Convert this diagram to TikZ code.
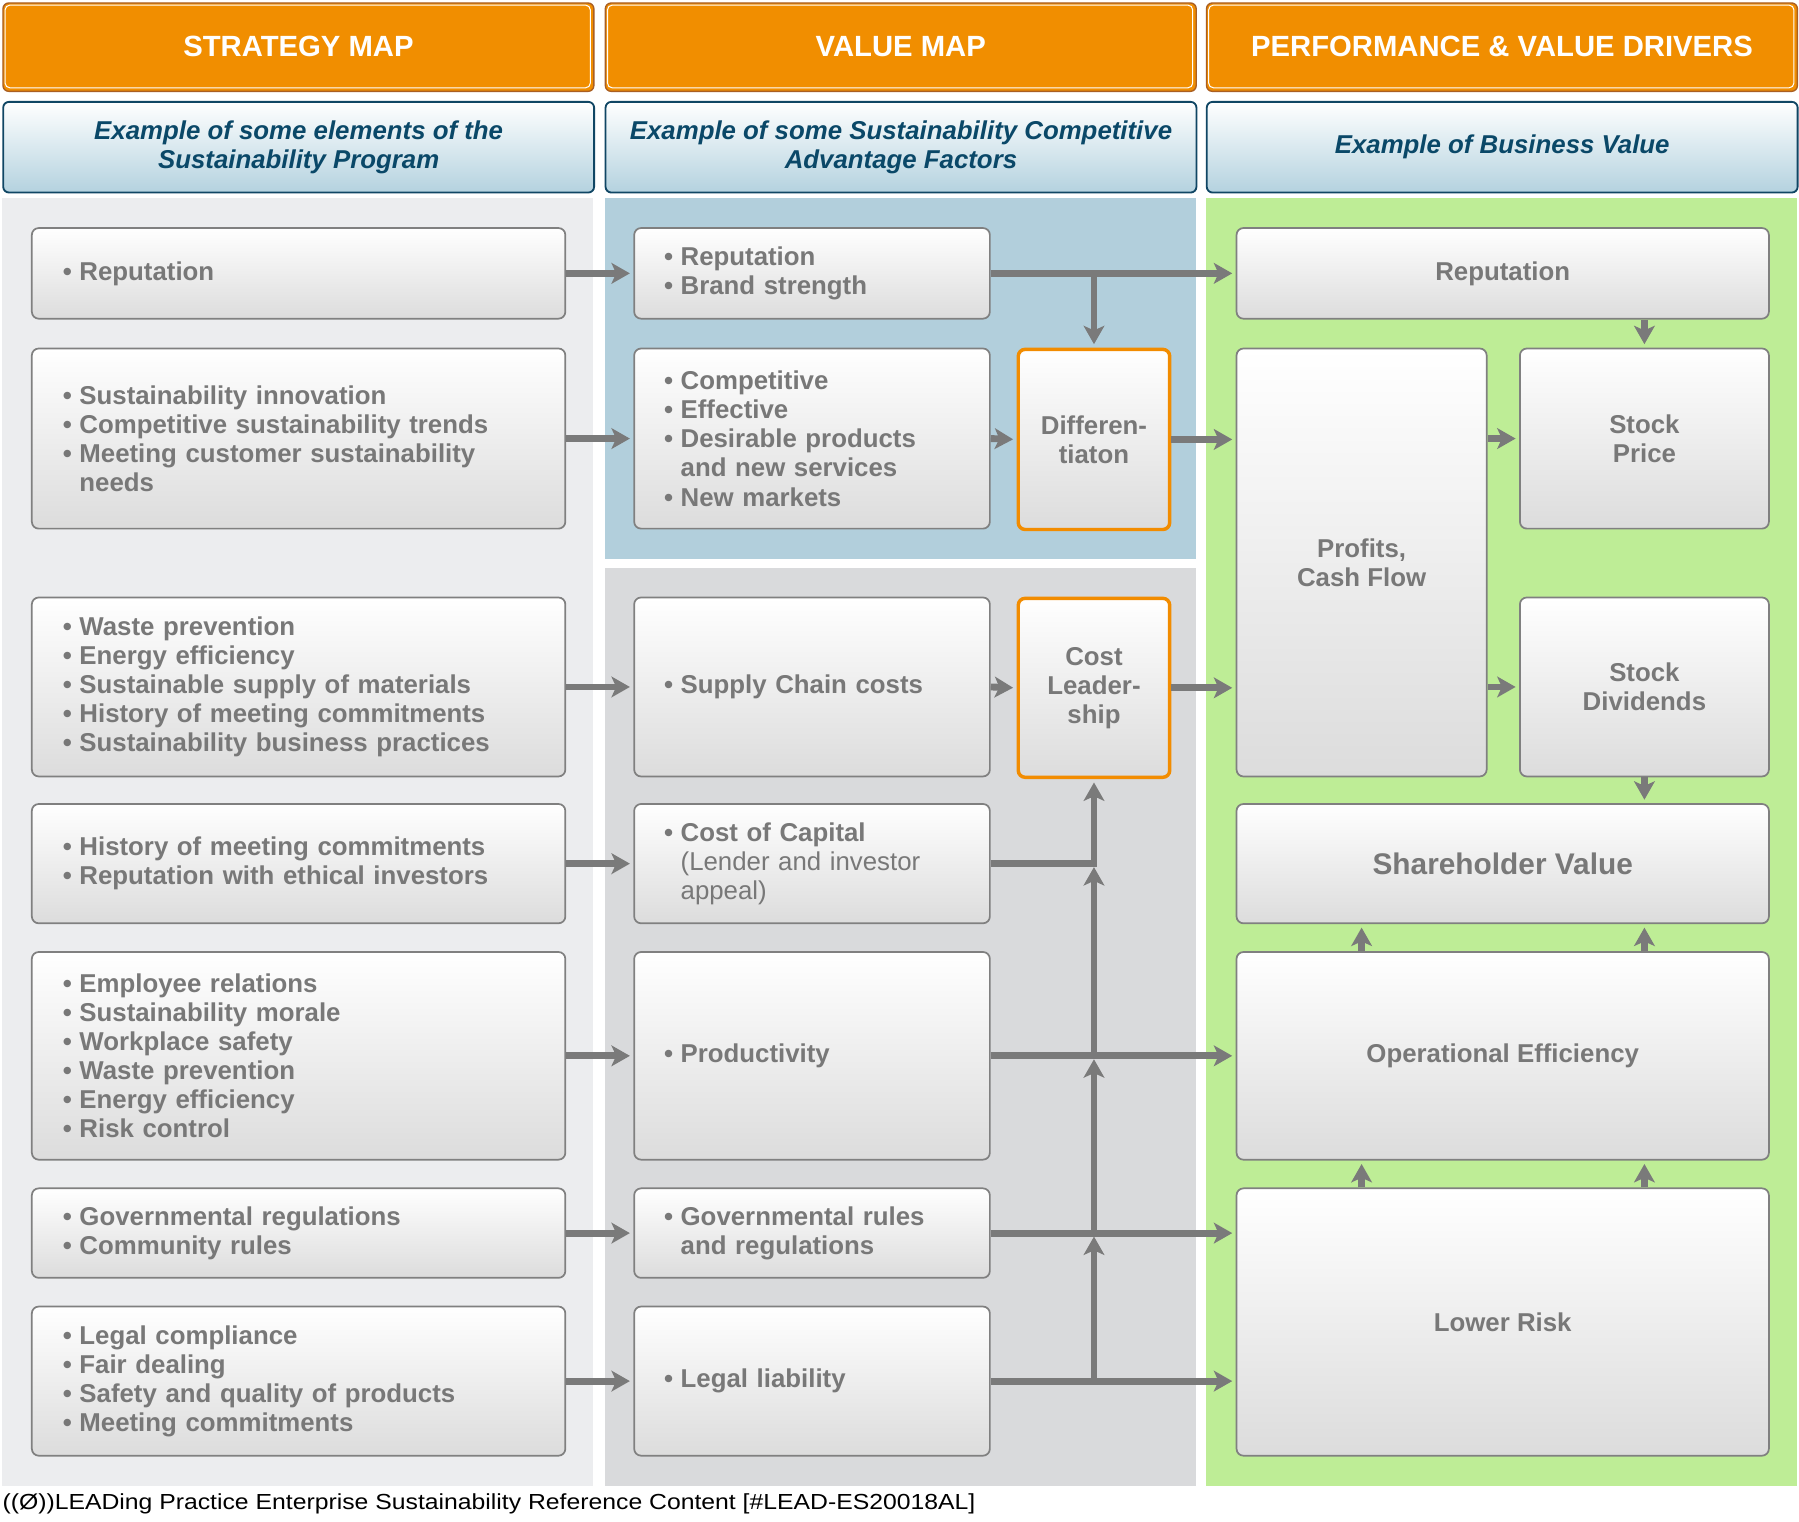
\documentclass[tikz,border=0pt]{standalone}
\usepackage{fontspec}
\usepackage{graphicx}
\setmainfont{Liberation Sans}
\usetikzlibrary{arrows.meta,calc}
\definecolor{hdrorange}{RGB}{241,142,0}
\definecolor{hdrborder}{RGB}{170,95,35}
\definecolor{subborder}{RGB}{16,70,100}
\definecolor{subbot}{RGB}{180,210,223}
\definecolor{subtext}{RGB}{10,72,104}
\definecolor{panelA}{RGB}{236,237,239}
\definecolor{panelB}{RGB}{178,207,220}
\definecolor{panelC}{RGB}{217,218,220}
\definecolor{panelD}{RGB}{190,237,150}
\definecolor{boxborder}{RGB}{128,128,128}
\definecolor{boxbot}{RGB}{220,220,220}
\definecolor{txtgray}{RGB}{120,120,120}
\definecolor{arrgray}{RGB}{122,122,122}
\definecolor{boxorange}{RGB}{242,140,0}
\newcommand\bl{\makebox[14.5pt][l]{\textbullet}}
\newcommand\ind{\hspace*{14.5pt}}
\newcommand\bx[7]{\node[#6, minimum width={#4-#2}, minimum height={#5-#3}] (#1) at (#2,#3) {#7};}
\tikzset{
  hdr/.style={draw=hdrborder, line width=1.2pt, fill=hdrorange, rounded corners=5pt, text=white,
    font=\fontsize{25.5}{30}\selectfont\bfseries, anchor=north west, inner sep=0pt},
  sub/.style={draw=subborder, line width=1.6pt, top color=white, bottom color=subbot, rounded corners=5pt,
    text=subtext, font=\fontsize{22.5}{25}\selectfont\bfseries\itshape, align=center, anchor=north west, inner sep=0pt},
  bevel/.style={append after command={
    \pgfextra{\draw[white, line width=1.1pt, rounded corners=4.5pt]
      ($(\tikzlastnode.south west)+(2.6,-2.6)$) rectangle ($(\tikzlastnode.north east)+(-2.6,2.6)$);}}},
  box/.style={draw=boxborder, line width=1.5pt, top color=white, bottom color=boxbot, rounded corners=6pt,
    text=txtgray, font=\fontsize{22.5}{25.4}\selectfont\bfseries, anchor=north west, inner ysep=0pt, bevel},
  lboxA/.style={box, align=left, inner xsep=27pt, text width={465-54}},
  lboxB/.style={box, align=left, inner xsep=26pt, text width={310-52}},
  cbox/.style={box, align=center, inner xsep=4pt},
  obox/.style={cbox, draw=boxorange, line width=3pt},
  ln/.style={draw=arrgray, line width=6pt},
  arr/.style={ln, -{Stealth[length=16pt,width=18pt,inset=4pt]}, shorten >=3pt},
  hl/.style={draw=white, line width=0.9pt, rounded corners=4pt}
}
\begin{document}
\begin{tikzpicture}[x=1pt,y=-1pt]
\useasboundingbox[fill=white] (0,0) rectangle (1568,1325.7);
% panels
\fill[panelA] (2,173) rectangle (517,1295);
\fill[panelB] (527,173) rectangle (1042,487);
\fill[panelC] (527,495) rectangle (1042,1295);
\fill[panelD] (1051,173) rectangle (1566,1295);
% headers
\bx{h1}{2}{2}{517}{79}{hdr}{\raisebox{2pt}{STRATEGY MAP}}
\bx{h2}{527}{2}{1042}{79}{hdr}{\raisebox{2pt}{VALUE MAP}}
\bx{h3}{1051}{2}{1566}{79}{hdr}{\raisebox{2pt}{PERFORMANCE \& VALUE DRIVERS}}
\draw[hl] (4.5,4.5) rectangle (514.5,76.5);
\draw[hl] (529.5,4.5) rectangle (1039.5,76.5);
\draw[hl] (1053.5,4.5) rectangle (1563.5,76.5);
\bx{s1}{2}{88}{517}{167}{sub}{Example of some elements of the\\Sustainability Program}
\bx{s2}{527}{88}{1042}{167}{sub}{Example of some Sustainability Competitive\\Advantage Factors}
\bx{s3}{1051}{88}{1566}{167}{sub}{Example of Business Value}
% column 1
\bx{a1}{27}{198}{492}{277}{lboxA}{\bl Reputation}
\bx{a2}{27}{303}{492}{460}{lboxA}{\bl Sustainability innovation\\\bl Competitive sustainability trends\\\bl Meeting customer sustainability\\\ind needs}
\bx{a3}{27}{520}{492}{676}{lboxA}{\bl Waste prevention\\\bl Energy efficiency\\\bl Sustainable supply of materials\\\bl History of meeting commitments\\\bl Sustainability business practices}
\bx{a4}{27}{700}{492}{804}{lboxA}{\bl History of meeting commitments\\\bl Reputation with ethical investors}
\bx{a5}{27}{829}{492}{1010}{lboxA}{\bl Employee relations\\\bl Sustainability morale\\\bl Workplace safety\\\bl Waste prevention\\\bl Energy efficiency\\\bl Risk control}
\bx{a6}{27}{1035}{492}{1113}{lboxA}{\bl Governmental regulations\\\bl Community rules}
\bx{a7}{27}{1138}{492}{1268}{lboxA}{\bl Legal compliance\\\bl Fair dealing\\\bl Safety and quality of products\\\bl Meeting commitments}
% column 2
\bx{b1}{552}{198}{862}{277}{lboxB}{\bl Reputation\\\bl Brand strength}
\bx{b2}{552}{303}{862}{460}{lboxB}{\bl Competitive\\\bl Effective\\\bl Desirable products\\\ind and new services\\\bl New markets}
\bx{b3}{552}{520}{862}{676}{lboxB}{\bl Supply Chain costs}
\bx{b4}{552}{700}{862}{804}{lboxB}{\bl Cost of Capital\\\ind{\mdseries(Lender and investor}\\\ind{\mdseries appeal)}}
\bx{b5}{552}{829}{862}{1010}{lboxB}{\bl Productivity}
\bx{b6}{552}{1035}{862}{1113}{lboxB}{\bl Governmental rules\\\ind and regulations}
\bx{b7}{552}{1138}{862}{1268}{lboxB}{\bl Legal liability}
\bx{dif}{886}{303}{1018}{460}{obox}{Differen-\\tiaton}
\bx{cl}{886}{520}{1018}{676}{obox}{Cost\\Leader-\\ship}
% column 3
\bx{rep}{1077}{198}{1541}{277}{cbox}{Reputation}
\bx{prof}{1077}{303}{1295}{676}{cbox}{Profits,\\Cash Flow}
\bx{sp}{1324}{303}{1541}{460}{cbox}{Stock\\Price}
\bx{sd}{1324}{520}{1541}{676}{cbox}{Stock\\Dividends}
\bx{sv}{1077}{700}{1541}{804}{cbox, font=\fontsize{26}{30}\selectfont\bfseries}{Shareholder Value}
\bx{op}{1077}{829}{1541}{1010}{cbox}{Operational Efficiency}
\bx{low}{1077}{1035}{1541}{1268}{cbox}{Lower Risk}
% arrows column 1 -> 2
\foreach \i in {1,...,7} {\draw[arr] (a\i.east) -- (b\i.west);}
% column 2 -> 3
\draw[arr] (b1.east) -- (rep.west);
\draw[arr] (b1.east -| dif.north) -- (dif.north);
\draw[arr] (b2.east) -- (dif.west);
\draw[arr] (dif.east) -- (prof.west |- dif.east);
\draw[arr] (b3.east) -- (cl.west);
\draw[arr] (cl.east) -- (prof.west |- cl.east);
\draw[arr] (b4.east) -| (cl.south);
\draw[arr] (b5.east) -- (op.west);
\draw[arr] (b6.east) -- (low.west |- b6.east);
\draw[arr] (b7.east) -- (low.west |- b7.east);
\draw[arr] (b7.east -| cl.south) -- (b6.east -| cl.south);
\draw[arr] (b6.east -| cl.south) -- (b5.east -| cl.south);
\draw[arr] (b5.east -| cl.south) -- (b4.east -| cl.south);
% column 3 internal
\draw[arr] (sp.north |- rep.south) -- (sp.north);
\draw[arr] (prof.east |- sp.west) -- (sp.west);
\draw[arr] (prof.east |- sd.west) -- (sd.west);
\draw[arr] (sd.south) -- (sd.south |- sv.north);
\draw[arr] (op.north -| prof.south) -- (sv.south -| prof.south);
\draw[arr] (op.north -| sd.south) -- (sv.south -| sd.south);
\draw[arr] (low.north -| prof.south) -- (op.south -| prof.south);
\draw[arr] (low.north -| sd.south) -- (op.south -| sd.south);
% footer
\node[anchor=west, inner sep=0pt, font=\fontsize{19}{22}\selectfont] (foot) at (2,1311)
  {\resizebox{848pt}{\height}{((Ø))LEADing Practice Enterprise Sustainability Reference Content [\#LEAD-ES20018AL]}};
\end{tikzpicture}
\end{document}
